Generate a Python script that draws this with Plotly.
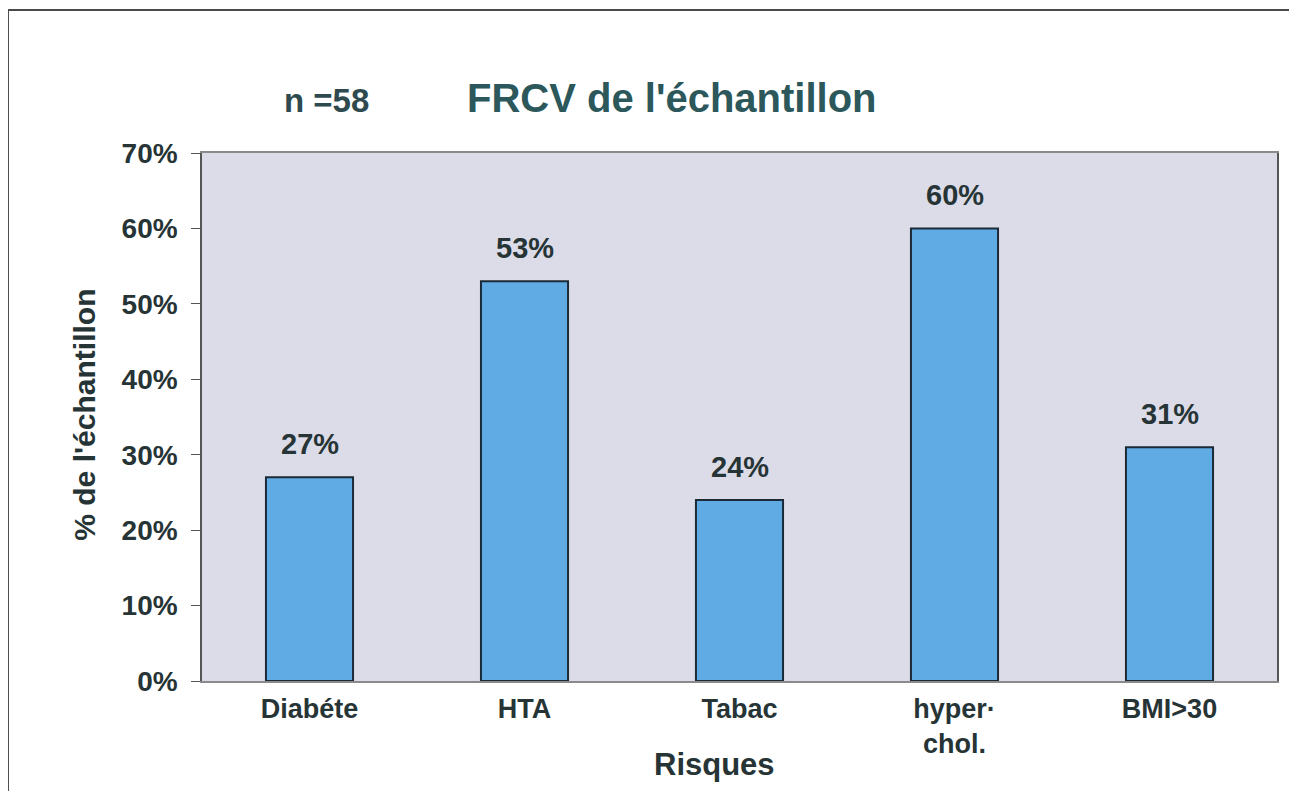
import plotly.graph_objects as go

categories = ["Diabéte", "HTA", "Tabac", "hyper·<br>chol.", "BMI>30"]
values = [27, 53, 24, 60, 31]
value_labels = ["27%", "53%", "24%", "60%", "31%"]
y_ticks = [0, 10, 20, 30, 40, 50, 60, 70]
y_tick_labels = ["0%", "10%", "20%", "30%", "40%", "50%", "60%", "70%"]

FONT = "Liberation Sans, Arial, sans-serif"
TXT = "#263436"

fig = go.Figure()
fig.add_trace(go.Bar(
    x=categories, y=values, width=0.405,
    marker=dict(color="#60abe4", line=dict(color="#1b2a36", width=2)),
    hoverinfo="skip",
))

for c, v, t in zip(categories, values, value_labels):
    fig.add_annotation(x=c, y=v, text=f"<b>{t}</b>", showarrow=False,
                       xanchor="center", yanchor="bottom", yshift=15,
                       font=dict(family=FONT, size=29, color=TXT))

fig.add_annotation(xref="paper", yref="paper", x=0.437, y=1.104,
                   xanchor="center", yanchor="middle",
                   text="<b>FRCV de l'échantillon</b>", showarrow=False,
                   font=dict(family=FONT, size=40, color="#2c575b"))
fig.add_annotation(xref="paper", yref="paper", x=0.116, y=1.100,
                   xanchor="center", yanchor="middle",
                   text="<b>n =58</b>", showarrow=False,
                   font=dict(family=FONT, size=33, color="#2e4a4e"))
fig.add_annotation(xref="paper", yref="paper", x=-0.109, y=0.504,
                   xanchor="center", yanchor="middle",
                   text="<b>% de l'échantillon</b>", showarrow=False, textangle=-90,
                   font=dict(family=FONT, size=30, color=TXT))
fig.add_annotation(xref="paper", yref="paper", x=0.477, y=-0.159,
                   xanchor="center", yanchor="middle",
                   text="<b>Risques</b>", showarrow=False,
                   font=dict(family=FONT, size=31, color=TXT))

fig.add_shape(type="rect", xref="paper", yref="paper",
              x0=-0.1805, x1=1.0167, y0=-0.4, y1=1.2708,
              line=dict(color="#4a4a4a", width=2), layer="below")

fig.update_layout(
    width=1297, height=791,
    margin=dict(l=194, r=28, t=145, b=118),
    paper_bgcolor="white", plot_bgcolor="#dcdce9",
    showlegend=False, bargap=0.6,
)
fig.update_xaxes(
    tickvals=categories, ticktext=["<b>%s</b>" % c for c in categories],
    tickfont=dict(family=FONT, size=27, color=TXT),
    showline=True, linecolor="#8a8a8a", linewidth=1.5, mirror=True,
    ticks="", showgrid=False, ticklabelstandoff=3,
)
fig.update_yaxes(
    range=[0, 70], tickvals=y_ticks,
    ticktext=["<b>%s</b>" % t for t in y_tick_labels],
    tickfont=dict(family=FONT, size=28, color=TXT),
    showline=True, linecolor="#555555", linewidth=1.5, mirror=True,
    ticks="outside", ticklen=9, tickcolor="#555555", showgrid=False,
    ticklabelstandoff=8, zeroline=False,
)

fig.write_html("out.html")
